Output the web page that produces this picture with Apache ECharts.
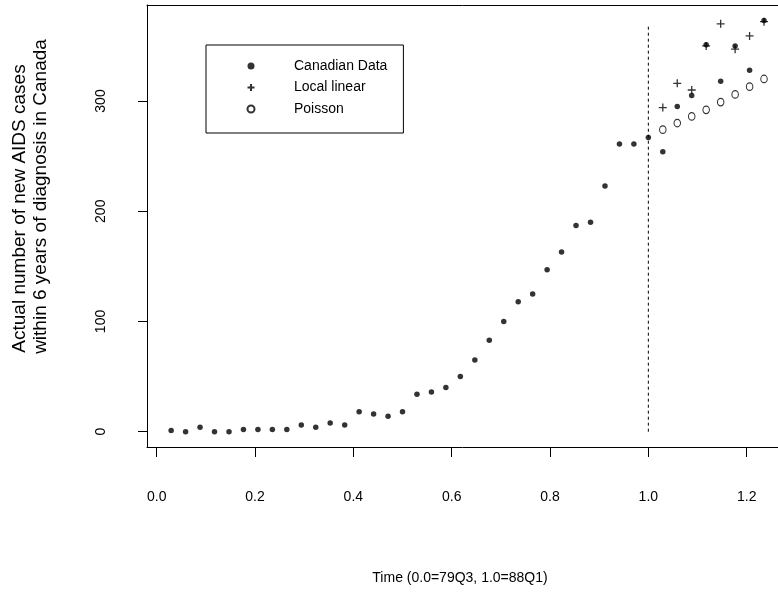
<!DOCTYPE html>
<html>
<head>
<meta charset="utf-8">
<script src="https://cdn.jsdelivr.net/npm/echarts@6/dist/echarts.min.js"></script>
<style>
  html, body { margin: 0; padding: 0; background: #fff; }
  #chart { width: 778px; height: 596px; }
</style>
</head>
<body>
<div id="chart"></div>
<script>
// Quarterly time index (0.0 = 79Q3, 1.0 = 88Q1)
const time = [
  0.0294, 0.0588, 0.0882, 0.1176, 0.1471, 0.1765, 0.2059, 0.2353, 0.2647, 0.2941,
  0.3235, 0.3529, 0.3824, 0.4118, 0.4412, 0.4706, 0.5000, 0.5294, 0.5588, 0.5882,
  0.6176, 0.6471, 0.6765, 0.7059, 0.7353, 0.7647, 0.7941, 0.8235, 0.8529, 0.8824,
  0.9118, 0.9412, 0.9706, 1.0000, 1.0294, 1.0588, 1.0882, 1.1176, 1.1471, 1.1765,
  1.2059, 1.2353
];
// Observed new AIDS cases per quarter
const canadianData = [
  1, 0, 4, 0, 0, 2, 2, 2, 2, 6,
  4, 8, 6, 18, 16, 14, 18, 34, 36, 40,
  50, 65, 83, 100, 118, 125, 147, 163, 187, 190,
  223, 261, 261, 267, 254, 295, 305, 351, 318, 350,
  328, 373
];
// Predictions for the quarters after 88Q1
const forecastTime = [1.0294, 1.0588, 1.0882, 1.1176, 1.1471, 1.1765, 1.2059, 1.2353];
const localLinear = [294, 316, 310, 350, 370, 347, 359, 372];
const poisson = [274, 280, 286, 292, 299, 306, 313, 320];

// Reference line at the end of the fitting period
const cutoffTime = 1.0;
const cutoffRange = [0, 369];

const xTicks = [0, 0.2, 0.4, 0.6, 0.8, 1.0, 1.2];
const yTicks = [0, 100, 200, 300];

const seriesNames = ['Canadian Data', 'Local linear', 'Poisson'];

const FONT = '"Liberation Sans", Arial, Helvetica, sans-serif';
const pair = (xs, ys) => xs.map((x, i) => [x, ys[i]]);

const X_MIN = -0.0197, X_MAX = 1.2637;
const Y_MIN = -13.88, Y_MAX = 387.09;
const frame = { show: true, onZero: false, lineStyle: { color: '#000', width: 1 } };

const chart = echarts.init(document.getElementById('chart'), null, { renderer: 'canvas' });

chart.setOption({
  backgroundColor: '#ffffff',
  animation: false,
  textStyle: { fontFamily: FONT, color: '#000' },
  grid: { left: 147, top: 5, right: 0, height: 442 },
  legend: {
    data: seriesNames,
    orient: 'vertical',
    left: 206, top: 45,
    padding: [13.5, 16, 16.5, 40.5],
    itemWidth: 7, itemHeight: 7, itemGap: 6.5,
    borderColor: '#000', borderWidth: 1,
    selectedMode: false,
    textStyle: { fontFamily: FONT, fontSize: 14, color: '#000', lineHeight: 15, padding: [0, 0, 0, 34.5] }
  },
  xAxis: [
    {
      type: 'value', position: 'bottom',
      min: X_MIN, max: X_MAX,
      splitLine: { show: false },
      axisLine: frame,
      axisTick: { show: true, length: 10, customValues: xTicks, lineStyle: { color: '#000', width: 1 } },
      axisLabel: {
        customValues: xTicks, margin: 43, fontSize: 14, color: '#000', fontFamily: FONT,
        formatter: v => v.toFixed(1)
      }
    },
    {
      type: 'value', position: 'top',
      min: X_MIN, max: X_MAX,
      splitLine: { show: false },
      axisLine: frame,
      axisTick: { show: false },
      axisLabel: { show: false }
    }
  ],
  yAxis: {
    type: 'value',
    min: Y_MIN, max: Y_MAX,
    splitLine: { show: false },
    axisLine: frame,
    axisTick: { show: true, length: 9, customValues: yTicks, lineStyle: { color: '#000', width: 1 } },
    axisLabel: {
      customValues: yTicks, rotate: 90, margin: 39, fontSize: 14, color: '#000', fontFamily: FONT
    }
  },
  graphic: [
    {
      type: 'text', x: 19.5, y: 208.5, rotation: Math.PI / 2,
      style: { text: 'Actual number of new AIDS cases', fontSize: 19, fontFamily: FONT, fill: '#000', align: 'center', verticalAlign: 'middle' }
    },
    {
      type: 'text', x: 40.5, y: 196.5, rotation: Math.PI / 2,
      style: { text: 'within 6 years of diagnosis in Canada', fontSize: 19, fontFamily: FONT, fill: '#000', align: 'center', verticalAlign: 'middle' }
    },
    {
      type: 'text', x: 460, y: 578,
      style: { text: 'Time (0.0=79Q3, 1.0=88Q1)', fontSize: 14, fontFamily: FONT, fill: '#000', align: 'center', verticalAlign: 'middle' }
    }
  ],
  series: [
    {
      name: 'cutoff', type: 'line', silent: true,
      data: [[cutoffTime, cutoffRange[0]], [cutoffTime, cutoffRange[1]]],
      symbol: 'none',
      lineStyle: { color: '#000', width: 1, type: [3, 3] },
      z: 1
    },
    {
      name: seriesNames[1], type: 'scatter',
      data: pair(forecastTime, localLinear),
      symbol: 'path://M0,5L10,5M5,0L5,10',
      symbolSize: 8,
      itemStyle: { color: 'transparent', borderColor: '#000', borderWidth: 1.3 },
      z: 2
    },
    {
      name: seriesNames[2], type: 'scatter',
      data: pair(forecastTime, poisson),
      symbol: 'circle',
      symbolSize: [6.5, 7.5],
      itemStyle: { color: '#fff', borderColor: '#000', borderWidth: 1.1 },
      z: 2
    },
    {
      name: seriesNames[0], type: 'scatter',
      data: pair(time, canadianData),
      symbol: 'circle',
      symbolSize: 5.5,
      itemStyle: { color: '#000' },
      z: 3
    }
  ]
});
</script>
</body>
</html>
